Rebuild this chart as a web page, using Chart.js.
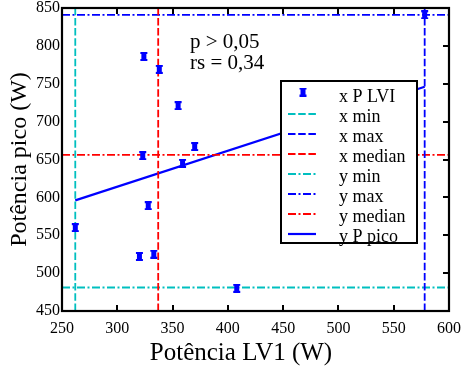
<!DOCTYPE html>
<html>
<head>
<meta charset="utf-8">
<script src="https://cdn.jsdelivr.net/npm/chart.js@4/dist/chart.umd.min.js"></script>
<style>
html,body{margin:0;padding:0;background:#fff;}
canvas{display:block;}
</style>
</head>
<body>
<canvas id="c" width="461" height="368"></canvas>
<script>
// ---- data ----
const pLV1  = [262, 320, 323, 324, 328, 333, 338, 355, 359, 370, 408, 578];
const pPico = [560, 522, 655, 786, 589, 525, 769, 721, 645, 667, 480, 841];
const xMin = 262, xMax = 578, xMedian = 337;
const yMin = 481, yMax = 841, yMedian = 656;
const fitX = [262, 578];
const fitY = [596, 746];
const xTicks = [250, 300, 350, 400, 450, 500, 550, 600];
const yTicks = [450, 500, 550, 600, 650, 700, 750, 800, 850];
const legendLabels = ['x P LVI','x min','x max','x median','y min','y max','y median','y P pico'];
const annotLines = ['p > 0,05', 'rs = 0,34'];
const xTitle = 'Potência LV1 (W)';
const yTitle = 'Potência pico (W)';

const SERIF = '"Liberation Serif","DejaVu Serif",serif';
const BLUE = '#0000ff', RED = '#ff0000', CYAN = '#00bfbf';
const DASH = [7.5, 2.7], DASHDOT = [8, 2.5, 2, 2.5];

function makeMarker(){
  const c = document.createElement('canvas'); c.width = 9; c.height = 9;
  const g = c.getContext('2d'); g.fillStyle = BLUE;
  g.fillRect(1,0,7,2); g.fillRect(1,7,7,2); g.fillRect(2,2,5,5);
  return c;
}
const marker = makeMarker();

const scatterPts = pLV1.map((x,i)=>({x:x, y:pPico[i]}));
const X0 = xTicks[0], X1 = xTicks[xTicks.length-1];
const Y0 = yTicks[0], Y1 = yTicks[yTicks.length-1];

function vline(v){ return [{x:v,y:Y0},{x:v,y:Y1}]; }
function hline(v){ return [{x:X0,y:v},{x:X1,y:v}]; }
function lineDs(label, data, color, dash, width){
  return {type:'line', label, data, borderColor:color, borderDash:dash, borderWidth:width||1.8,
          pointRadius:0, fill:false, tension:0, showLine:true};
}

const datasets = [
  {type:'scatter', label:legendLabels[0], data:scatterPts, pointStyle:marker, pointRadius:4.5, backgroundColor:BLUE, borderColor:BLUE},
  lineDs(legendLabels[1], vline(xMin), CYAN, DASH),
  lineDs(legendLabels[2], vline(xMax), BLUE, DASH),
  lineDs(legendLabels[3], vline(xMedian), RED, DASH),
  lineDs(legendLabels[4], hline(yMin), CYAN, DASHDOT),
  lineDs(legendLabels[5], hline(yMax), BLUE, DASHDOT),
  lineDs(legendLabels[6], hline(yMedian), RED, DASHDOT),
  lineDs(legendLabels[7], fitX.map((x,i)=>({x:x,y:fitY[i]})), BLUE, [], 2.2)
];

const framePlugin = {
  id:'frame',
  afterDatasetsDraw(chart){
    const {ctx, chartArea:a, scales:{x, y}} = chart;
    ctx.save();
    // legend box
    const L = 281, T = 81, R = 417, B = 243;
    ctx.fillStyle = '#fff'; ctx.fillRect(L, T, R-L, B-T);
    ctx.strokeStyle = '#000'; ctx.lineWidth = 2; ctx.setLineDash([]);
    ctx.strokeRect(L, T, R-L, B-T);
    ctx.font = '18px ' + SERIF; ctx.fillStyle = '#000'; ctx.textBaseline = 'middle'; ctx.textAlign = 'left';
    chart.data.datasets.forEach((ds, i) => {
      const cy = 97 + 20*i;
      if (i === 0) {
        ctx.drawImage(marker, 303 - 4.5, cy - 5 - 4.5);
      } else {
        ctx.strokeStyle = ds.borderColor; ctx.lineWidth = ds.borderWidth;
        ctx.setLineDash(ds.borderDash || []);
        ctx.beginPath(); ctx.moveTo(288, cy - 3); ctx.lineTo(316, cy - 3); ctx.stroke();
        ctx.setLineDash([]);
      }
      ctx.fillStyle = '#000';
      ctx.fillText(ds.label, 339, cy);
    });
    // annotation
    ctx.font = '21px ' + SERIF; ctx.fillStyle = '#000';
    ctx.fillText(annotLines[0], 190, 42);
    ctx.fillText(annotLines[1], 190, 63);
    // x axis title
    ctx.font = '25px ' + SERIF; ctx.textAlign = 'center';
    ctx.fillText(xTitle, 241, 353);
    // frame
    ctx.strokeStyle = '#000'; ctx.lineWidth = 2.2;
    ctx.strokeRect(a.left, a.top, a.right - a.left, a.bottom - a.top);
    // inward ticks (top, bottom, right)
    ctx.lineWidth = 2;
    ctx.beginPath();
    xTicks.slice(1, -1).forEach(v => {
      const px = Math.round(x.getPixelForValue(v));
      ctx.moveTo(px, a.top); ctx.lineTo(px, a.top + 6);
      ctx.moveTo(px, a.bottom); ctx.lineTo(px, a.bottom - 6);
    });
    yTicks.slice(1, -1).forEach(v => {
      const py = Math.round(y.getPixelForValue(v));
      ctx.moveTo(a.right, py); ctx.lineTo(a.right - 6, py);
    });
    ctx.stroke();
    ctx.restore();
  }
};

new Chart(document.getElementById('c'), {
  data: {datasets},
  options: {
    responsive:false, devicePixelRatio:1, animation:false,
    layout:{padding:{left:0, right:12, top:8, bottom:0}, autoPadding:false},
    plugins:{legend:{display:false}, tooltip:{enabled:false}},
    scales:{
      x:{type:'linear', min:X0, max:X1,
         afterBuildTicks(s){ s.ticks = xTicks.map(v=>({value:v})); },
         afterFit(s){ s.height = 57; s.paddingLeft = 0; s.paddingRight = 0; },
         grid:{display:false, drawTicks:false, tickLength:0},
         border:{display:false},
         ticks:{color:'#000', font:{family:SERIF, size:16}, padding:8, maxRotation:0, autoSkip:false},
         title:{display:false}
      },
      y:{type:'linear', min:Y0, max:Y1,
         afterBuildTicks(s){ s.ticks = yTicks.map(v=>({value:v})); },
         afterFit(s){ s.width = 62; s.paddingTop = 0; s.paddingBottom = 0; },
         grid:{display:false, drawTicks:false, tickLength:0},
         border:{display:false},
         ticks:{color:'#000', font:{family:SERIF, size:16}, padding:2, autoSkip:false},
         title:{display:true, text:yTitle, color:'#000', font:{family:SERIF, size:24}, padding:{top:5, bottom:0}}
      }
    }
  },
  plugins:[framePlugin]
});
</script>
</body>
</html>
